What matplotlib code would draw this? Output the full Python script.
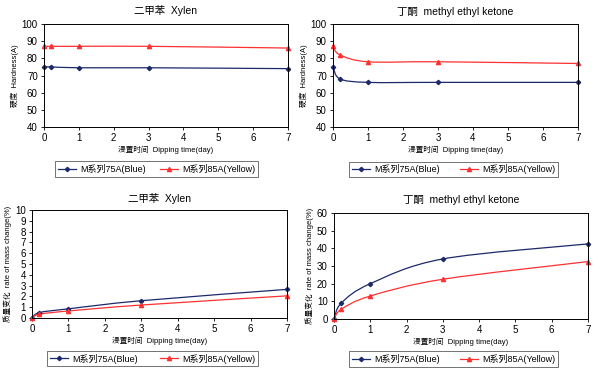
import numpy as np
import matplotlib
matplotlib.use("Agg")
import matplotlib.pyplot as plt
from matplotlib.path import Path
from matplotlib.patches import PathPatch
from matplotlib.lines import Line2D

plt.rcParams['font.family'] = ['Liberation Sans', 'Noto Sans CJK SC']

# data
days = [0, 0.2, 1, 3, 7]
xylen_hard_75 = [75, 75, 74.5, 74.5, 74]
xylen_hard_85 = [87, 87, 87, 87, 86]
mek_hard_75 = [75, 68, 66, 66, 66]
mek_hard_85 = [87, 82, 78, 78, 77]
xylen_mass_75 = [0, 0.5, 0.85, 1.6, 2.65]
xylen_mass_85 = [0, 0.35, 0.65, 1.2, 2.05]
mek_mass_75 = [0, 9, 20, 34, 42.5]
mek_mass_85 = [0, 5.5, 13, 22.5, 32.5]

series_names = ["M系列75A(Blue)", "M系列85A(Yellow)"]
blue = "#1c2a6b"
red = "#ff3030"

W, H = 600, 371
fig = plt.figure(figsize=(6, 3.71), dpi=100)


def box(l, t, r, b):
    return [l / W, 1 - b / H, (r - l) / W, (b - t) / H]


def smooth(ax, x, y, color):
    # excel style smoothed line drawn as cubic bezier segments
    p = np.column_stack([x, y]).astype(float)
    ext = np.vstack([p[0], p, p[-1]])
    verts = [p[0]]
    codes = [Path.MOVETO]
    for i in range(len(p) - 1):
        p0, p1, p2, p3 = ext[i], ext[i + 1], ext[i + 2], ext[i + 3]
        c1 = p1 + (p2 - p0) / 6
        c2 = p2 - (p3 - p1) / 6
        verts += [c1, c2, p2]
        codes += [Path.CURVE4] * 3
    ax.add_patch(PathPatch(Path(verts, codes), fill=False, ec=color, lw=0.9,
                           transform=ax.transData))


def panel(rect, title, title_y, y75, y85, ylim, yticks, ylabel, leg):
    ax = fig.add_axes(box(*rect))
    smooth(ax, days, y75, blue)
    smooth(ax, days, y85, red)
    ax.plot(days, y75, ls='none', marker='D', ms=2.2, color=blue, clip_on=False)
    ax.plot(days, y85, ls='none', marker='^', ms=3, color=red, clip_on=False)
    ax.set_xlim(0, 7)
    ax.set_ylim(*ylim)
    ax.set_xticks(range(8))
    ax.set_yticks(yticks)
    ax.tick_params(labelsize=7, length=2.5, width=0.6, pad=2)
    for s in ax.spines.values():
        s.set_linewidth(0.7)
    ax.set_xlabel("浸置时间  Dipping time(day)", fontsize=5.5, labelpad=2)
    ax.set_ylabel(ylabel, fontsize=5.5, labelpad=2)
    cx = (rect[0] + rect[2]) / 2 / W
    fig.text(cx, 1 - title_y / H, title, ha='center', va='center', fontsize=7.5)
    handles = [Line2D([], [], color=blue, marker='D', ms=2.2, lw=0.9),
               Line2D([], [], color=red, marker='^', ms=3, lw=0.9)]
    l, t, r, b = leg
    lg = fig.legend(handles, series_names, loc='center', ncol=2, mode='expand',
                    bbox_to_anchor=(l / W, 1 - b / H, (r - l) / W, (b - t) / H),
                    fontsize=6.5, fancybox=False, edgecolor='#333333',
                    handlelength=2.0, handletextpad=0.5, borderpad=0.3,
                    columnspacing=1.0, borderaxespad=0)
    lg.get_frame().set_linewidth(0.6)
    return ax


panel((44, 24, 288, 127), "二甲苯  Xylen", 11, xylen_hard_75, xylen_hard_85,
      (40, 100), range(40, 101, 10), "硬度  Hardness(A)", (55, 161, 258, 177))
panel((333, 24, 578, 127), "丁酮  methyl ethyl ketone", 12, mek_hard_75, mek_hard_85,
      (40, 100), range(40, 101, 10), "硬度  Hardness(A)", (349, 162, 558, 177))
panel((32, 210, 287, 318), "二甲苯  Xylen", 198, xylen_mass_75, xylen_mass_85,
      (0, 10), range(0, 11), "质量变化  rate of mass change(%)", (47, 351, 258, 366))
panel((334, 213, 588, 319), "丁酮  methyl ethyl ketone", 200, mek_mass_75, mek_mass_85,
      (0, 60), range(0, 61, 10), "质量变化  rate of mass change(%)", (349, 352, 558, 366))

fig.savefig("out.png", dpi=100)
